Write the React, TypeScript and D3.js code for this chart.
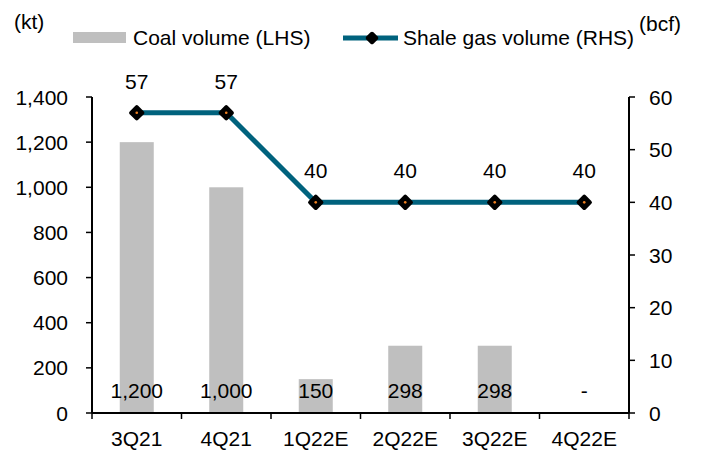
import * as d3 from "d3";

const categories = ["3Q21", "4Q21", "1Q22E", "2Q22E", "3Q22E", "4Q22E"];
const coalVolume: (number | null)[] = [1200, 1000, 150, 298, 298, null];
const shaleGas = [57, 57, 40, 40, 40, 40];
const leftTicks = [0, 200, 400, 600, 800, 1000, 1200, 1400];
const rightTicks = [0, 10, 20, 30, 40, 50, 60];

const W = 702;
const H = 450;
const margin = { left: 92, right: 73, top: 97, bottom: 37 };
const font = "'Liberation Sans', Arial, sans-serif";
const fs = 21;
const teal = "#00627D";

// rounded diamond marker
function Marker({ size, dot }: { size: number; dot?: boolean }) {
  return (
    <g>
      <rect x={-size / 2} y={-size / 2} width={size} height={size} rx={2} transform="rotate(45)" fill="#000" />
      {dot && <circle r={1.3} fill="#F08020" />}
    </g>
  );
}

export default function App() {
  const x = d3
    .scaleBand<string>()
    .domain(categories)
    .range([margin.left, W - margin.right])
    .paddingInner(0.62)
    .paddingOuter(0.31);
  const bandStep = x.step();
  const yL = d3.scaleLinear().domain([0, 1400]).range([H - margin.bottom, margin.top]);
  const yR = d3.scaleLinear().domain([0, 60]).range([H - margin.bottom, margin.top]);
  const base = yL(0);
  const cx = (c: string) => (x(c) ?? 0) + x.bandwidth() / 2;

  const line = d3
    .line<number>()
    .x((_, i) => cx(categories[i]))
    .y((d) => yR(d));

  const fmt = d3.format(",");
  const leftX = margin.left;
  const rightX = W - margin.right;

  return (
    <svg width={W} height={H} style={{ position: "absolute", left: 0, top: 0 }} fontFamily={font}>
      <rect width={W} height={H} fill="#fff" />
      {/* legend */}
      <text x={14} y={29} fontSize={fs}>(kt)</text>
      <rect x={73} y={32} width={53} height={11} fill="#BFBFBF" />
      <text x={133} y={45} fontSize={fs}>Coal volume (LHS)</text>
      <line x1={343} x2={398} y1={38} y2={38} stroke={teal} strokeWidth={5} />
      <g transform="translate(372,38)"><Marker size={10} /></g>
      <text x={403} y={45} fontSize={fs}>Shale gas volume (RHS)</text>
      <text x={639} y={31} fontSize={fs}>(bcf)</text>

      {/* bars */}
      {categories.map((c, i) => {
        const v = coalVolume[i];
        return (
          <g key={c}>
            {v != null && (
              <rect x={x(c)} y={yL(v)} width={x.bandwidth()} height={base - yL(v)} fill="#BFBFBF" />
            )}
            <text x={cx(c)} y={398} fontSize={fs} textAnchor="middle">
              {v != null ? fmt(v) : "-"}
            </text>
          </g>
        );
      })}

      {/* axes */}
      <line x1={leftX} x2={leftX} y1={margin.top} y2={base} stroke="#000" strokeWidth={2} />
      <line x1={rightX} x2={rightX} y1={margin.top} y2={base} stroke="#000" strokeWidth={2} />
      <line x1={leftX} x2={rightX} y1={base} y2={base} stroke="#000" strokeWidth={2} />
      {leftTicks.map((t) => (
        <g key={t}>
          <line x1={leftX - 6} x2={leftX} y1={yL(t)} y2={yL(t)} stroke="#000" strokeWidth={1.5} />
          <text x={68} y={yL(t) + 7.5} fontSize={fs} textAnchor="end">{fmt(t)}</text>
        </g>
      ))}
      {rightTicks.map((t) => (
        <g key={t}>
          <line x1={rightX} x2={rightX + 6} y1={yR(t)} y2={yR(t)} stroke="#000" strokeWidth={1.5} />
          <text x={rightX + 20} y={yR(t) + 7.5} fontSize={fs}>{t}</text>
        </g>
      ))}
      {categories.map((c, i) => (
        <line key={c} x1={leftX + bandStep * i} x2={leftX + bandStep * i} y1={base} y2={base + 6} stroke="#000" strokeWidth={1.5} />
      ))}
      <line x1={rightX} x2={rightX} y1={base} y2={base + 6} stroke="#000" strokeWidth={1.5} />
      {categories.map((c) => (
        <text key={c} x={cx(c)} y={446} fontSize={fs} textAnchor="middle">{c}</text>
      ))}

      {/* line */}
      <path d={line(shaleGas) ?? ""} fill="none" stroke={teal} strokeWidth={5} />
      {shaleGas.map((v, i) => (
        <g key={i} transform={`translate(${cx(categories[i])},${yR(v)})`}>
          <Marker size={12} dot />
          <text y={-24} fontSize={fs} textAnchor="middle">{v}</text>
        </g>
      ))}
    </svg>
  );
}
